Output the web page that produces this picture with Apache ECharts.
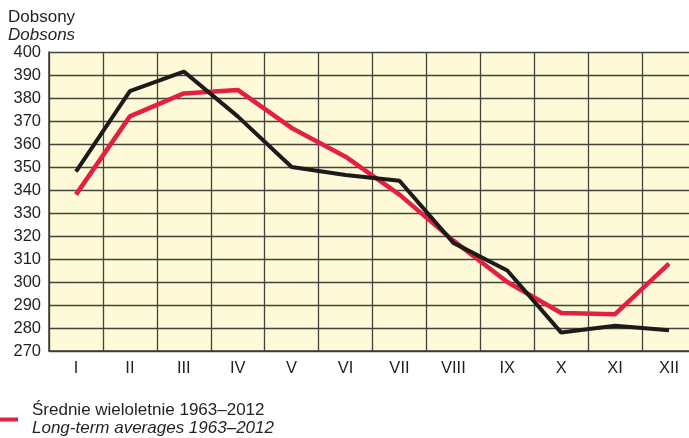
<!DOCTYPE html>
<html><head><meta charset="utf-8">
<script src="https://cdn.jsdelivr.net/npm/echarts@6/dist/echarts.min.js"></script>
<style>html,body{margin:0;padding:0;background:#fff}#c{width:689px;height:438px}</style>
</head><body><div id="c"></div>
<script>
const categories = ['I','II','III','IV','V','VI','VII','VIII','IX','X','XI','XII'];
const monthly2013 = [348, 383, 391.5, 372, 350, 346.5, 344, 317, 305, 278, 281, 279];
const longTermAvg = [338, 372, 382, 383.5, 367, 354.5, 338, 318, 300, 286.5, 286, 308];
const yTicks = {min: 270, max: 400, interval: 10};
const FONT = "'Liberation Sans', Arial, Helvetica, sans-serif";

const chart = echarts.init(document.getElementById('c'), null, {renderer: 'canvas'});
chart.setOption({
  animation: false,
  backgroundColor: '#ffffff',
  title: {
    left: 8, top: 8, padding: 0,
    text: '{a|Dobsony}\n{b|Dobsons}',
    textStyle: {
      fontWeight: 'normal',
      rich: {
        a: {fontFamily: FONT, fontSize: 17, fontWeight: 'normal', color: '#231f20', lineHeight: 18},
        b: {fontFamily: FONT, fontSize: 17, fontWeight: 'normal', fontStyle: 'italic', color: '#231f20', lineHeight: 18}
      }
    }
  },
  legend: {
    left: 0, top: 402, padding: 0,
    data: [{name: 'avg', itemStyle: {color: '#e31f43'}}],
    icon: 'rect', itemWidth: 18, itemHeight: 4,
    formatter: () => '{a|Średnie wieloletnie 1963–2012}\n{b|Long-term averages 1963–2012}',
    textStyle: {
      padding: [0, 0, 0, 9],
      rich: {
        a: {fontFamily: FONT, fontSize: 17, color: '#231f20', lineHeight: 18},
        b: {fontFamily: FONT, fontSize: 17, fontStyle: 'italic', color: '#231f20', lineHeight: 18}
      }
    }
  },
  grid: {
    left: 49, top: 52, bottom: 87, right: -7,
    outerBoundsMode: 'none', containLabel: false,
    show: true, backgroundColor: '#fef9d6', borderWidth: 0
  },
  xAxis: {
    type: 'category', data: categories, boundaryGap: true,
    axisLine: {show: true, lineStyle: {color: '#3a3a35', width: 1.5}},
    axisTick: {show: false},
    axisLabel: {fontFamily: FONT, fontSize: 16.5, color: '#231f20', margin: 9, interval: 0},
    splitLine: {show: true, interval: 0, lineStyle: {color: '#45443c', width: 1.3}}
  },
  yAxis: {
    type: 'value', min: yTicks.min, max: yTicks.max, interval: yTicks.interval,
    axisLine: {show: true, lineStyle: {color: '#3a3a35', width: 1.5}},
    axisTick: {show: false},
    axisLabel: {fontFamily: FONT, fontSize: 16.5, color: '#231f20', margin: 8},
    splitLine: {show: true, lineStyle: {color: '#45443c', width: 1.3}}
  },
  series: [
    {
      name: 'avg', type: 'line', data: longTermAvg, symbol: 'none',
      lineStyle: {color: '#e31f43', width: 4.5}, itemStyle: {color: '#e31f43'}, z: 3
    },
    {
      name: '2013', type: 'line', data: monthly2013, symbol: 'none',
      lineStyle: {color: '#1c1a1a', width: 4}, itemStyle: {color: '#1c1a1a'}, z: 4
    }
  ]
});
</script></body></html>
